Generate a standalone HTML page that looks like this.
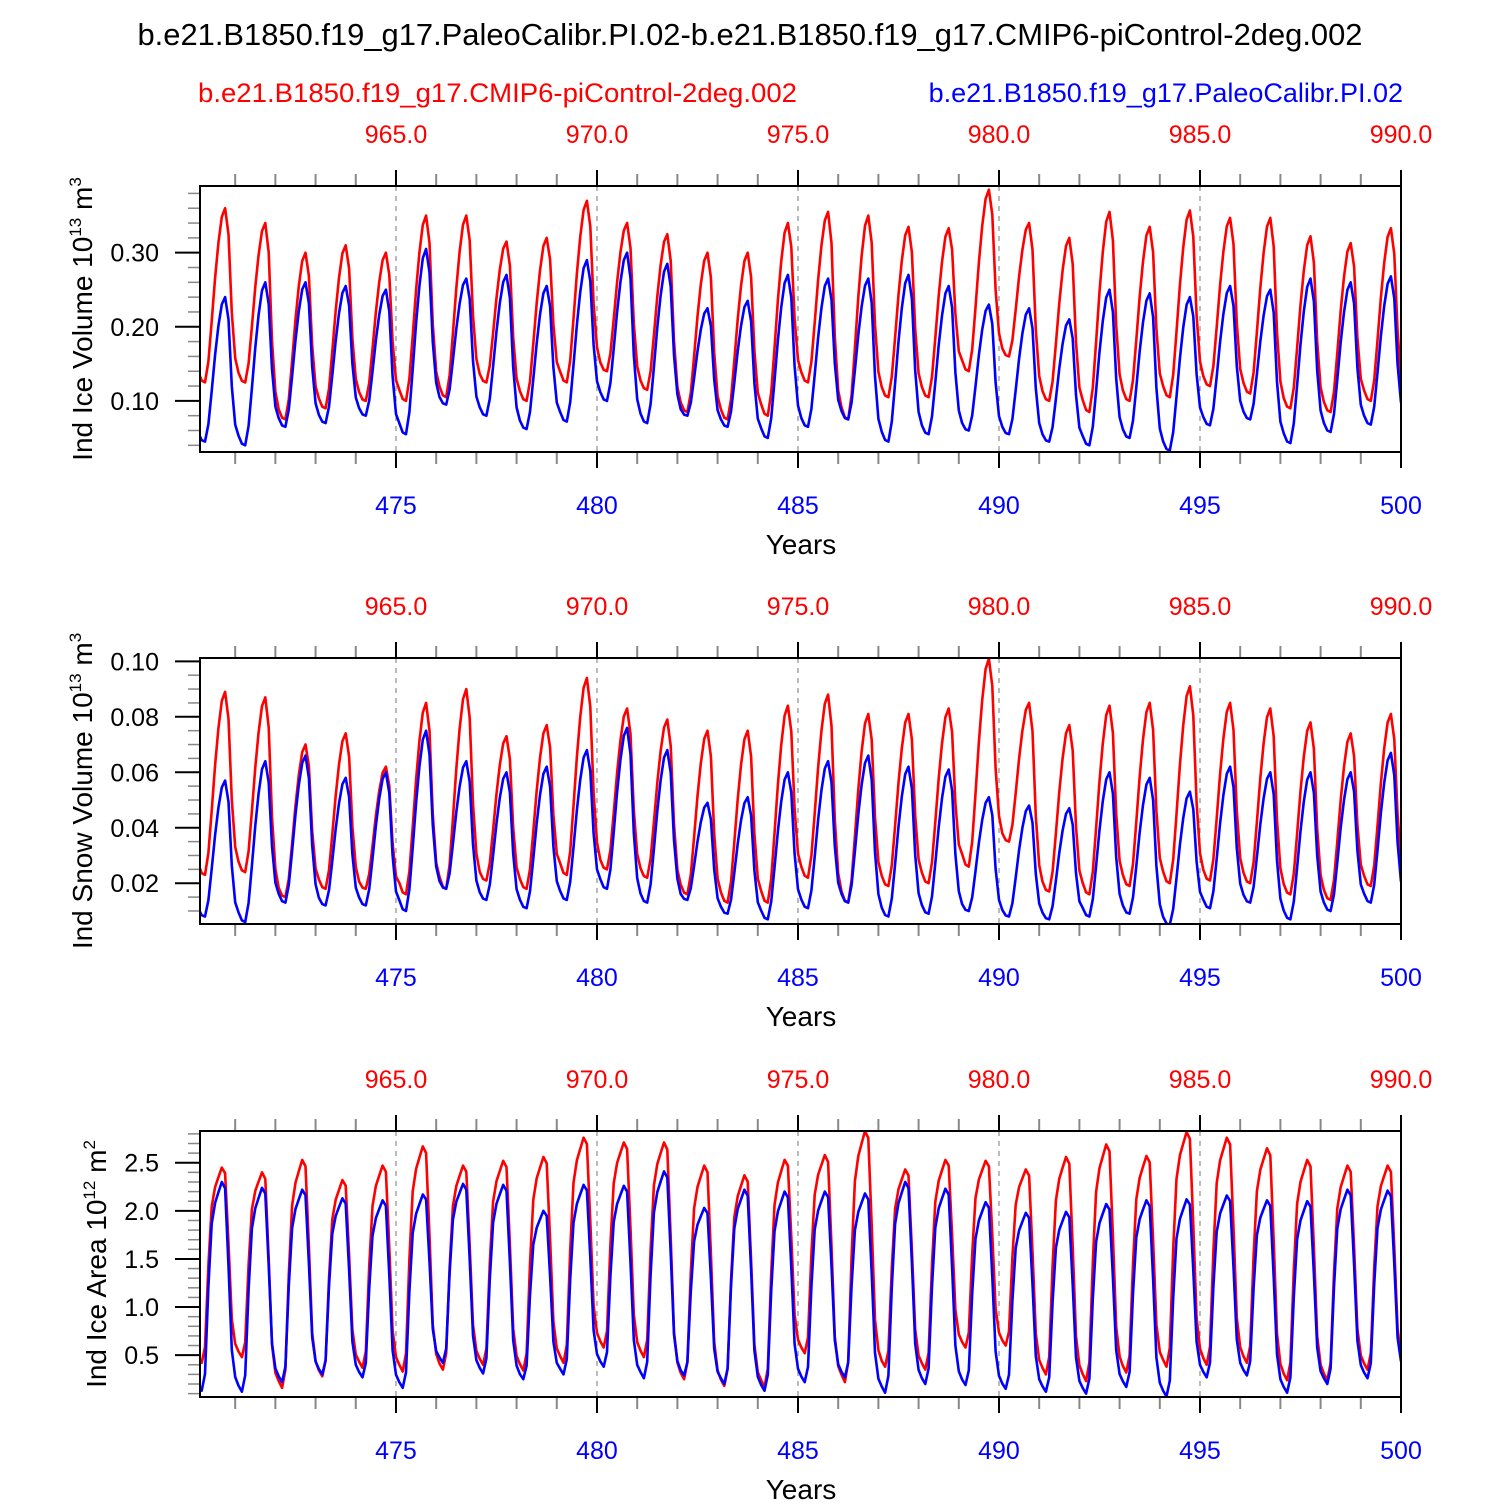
<!DOCTYPE html>
<html><head><meta charset="utf-8"><style>
body{margin:0;background:#fff}
svg text{font-family:"Liberation Sans",Arial,sans-serif}
</style></head><body>
<svg id="chart" width="1500" height="1500" viewBox="0 0 1500 1500" xmlns="http://www.w3.org/2000/svg">
<text x="750" y="45" font-size="31" text-anchor="middle" textLength="1225" lengthAdjust="spacingAndGlyphs">b.e21.B1850.f19_g17.PaleoCalibr.PI.02-b.e21.B1850.f19_g17.CMIP6-piControl-2deg.002</text>
<text x="198" y="102" font-size="27" fill="#ff0000" textLength="599" lengthAdjust="spacingAndGlyphs">b.e21.B1850.f19_g17.CMIP6-piControl-2deg.002</text>
<text x="1403" y="102" font-size="27" fill="#0000ff" text-anchor="end">b.e21.B1850.f19_g17.PaleoCalibr.PI.02</text>
</svg>
<script>
// Panel 1: ice volume (1e13 m3)
const years = [470,471,472,473,474,475,476,477,478,479,480,481,482,483,484,485,486,487,488,489,490,491,492,493,494,495,496,497,498,499];
const volRedMax = [0.36,0.34,0.30,0.31,0.30,0.35,0.35,0.315,0.32,0.37,0.34,0.325,0.30,0.30,0.34,0.355,0.35,0.335,0.333,0.385,0.34,0.32,0.355,0.335,0.357,0.347,0.347,0.322,0.313,0.333];
const volRedMin = [0.125,0.125,0.075,0.09,0.10,0.10,0.105,0.125,0.10,0.125,0.14,0.115,0.085,0.075,0.08,0.125,0.075,0.105,0.105,0.14,0.16,0.10,0.085,0.10,0.105,0.12,0.11,0.09,0.085,0.10,0.10];
const volBlueMax = [0.24,0.26,0.26,0.255,0.25,0.305,0.265,0.27,0.255,0.29,0.30,0.285,0.225,0.235,0.27,0.265,0.265,0.27,0.255,0.23,0.225,0.21,0.25,0.245,0.24,0.255,0.25,0.265,0.26,0.268];
const volBlueMin = [0.045,0.04,0.065,0.07,0.08,0.055,0.095,0.08,0.062,0.072,0.10,0.07,0.08,0.065,0.05,0.065,0.075,0.045,0.055,0.06,0.055,0.045,0.04,0.05,0.033,0.067,0.075,0.043,0.058,0.068,0.07];
// Panel 2: snow volume
const snowRedMax = [0.089,0.087,0.070,0.074,0.062,0.085,0.090,0.073,0.077,0.094,0.083,0.079,0.075,0.075,0.084,0.088,0.081,0.081,0.083,0.101,0.085,0.077,0.084,0.085,0.091,0.085,0.083,0.078,0.074,0.081];
const snowRedMin = [0.023,0.024,0.015,0.018,0.018,0.016,0.018,0.021,0.018,0.023,0.025,0.022,0.016,0.013,0.013,0.022,0.013,0.019,0.020,0.026,0.035,0.017,0.016,0.019,0.020,0.021,0.020,0.016,0.014,0.019,0.02];
const snowBlueMax = [0.057,0.064,0.066,0.058,0.060,0.075,0.064,0.060,0.062,0.068,0.076,0.068,0.049,0.051,0.060,0.064,0.066,0.062,0.061,0.051,0.048,0.047,0.060,0.058,0.053,0.062,0.060,0.060,0.060,0.067];
const snowBlueMin = [0.008,0.006,0.013,0.012,0.012,0.010,0.018,0.014,0.011,0.014,0.018,0.013,0.014,0.009,0.007,0.011,0.013,0.008,0.009,0.010,0.008,0.007,0.008,0.009,0.005,0.011,0.013,0.007,0.010,0.013,0.013];
// Panel 3: ice area (1e12 m2)
const areaRedMax = [2.45,2.40,2.53,2.32,2.47,2.67,2.47,2.52,2.56,2.76,2.71,2.71,2.47,2.37,2.53,2.58,2.83,2.43,2.53,2.52,2.43,2.56,2.69,2.57,2.82,2.76,2.65,2.53,2.47,2.47];
const areaRedMin = [0.42,0.48,0.16,0.28,0.37,0.33,0.35,0.40,0.34,0.42,0.58,0.48,0.25,0.18,0.17,0.52,0.22,0.38,0.35,0.58,0.60,0.30,0.23,0.32,0.38,0.40,0.42,0.24,0.24,0.35,0.35];
const areaBlueMax = [2.30,2.24,2.22,2.13,2.11,2.17,2.28,2.27,2.00,2.27,2.26,2.41,2.03,2.22,2.20,2.20,2.18,2.30,2.23,2.09,1.98,1.99,2.07,2.11,2.12,2.16,2.11,2.10,2.22,2.21];
const areaBlueMin = [0.13,0.12,0.22,0.30,0.27,0.16,0.42,0.31,0.25,0.30,0.38,0.26,0.29,0.20,0.13,0.22,0.27,0.11,0.20,0.19,0.15,0.12,0.10,0.17,0.07,0.27,0.29,0.11,0.20,0.26,0.3];
// seasonal cycle shape (fraction of range) for months Feb..Jan(next)
const volShape = [0.06,0.01,0,0.12,0.35,0.6,0.8,0.95,1.0,0.85,0.4,0.14];
const areaShape = [0.03,0,0.08,0.5,0.8,0.9,0.95,1.0,0.97,0.6,0.2,0.07];
const bottomTicks = ["475","480","485","490","495","500"];
const topTicks = ["965.0","970.0","975.0","980.0","985.0","990.0"];

const NS="http://www.w3.org/2000/svg";
const svg=document.getElementById('chart');
const X0=200,X1=1401,T0=470.125,T1=500;
const xs=t=>X0+(t-T0)/(T1-T0)*(X1-X0);
function mk(tag,attrs,parent){const e=document.createElementNS(NS,tag);for(const k in attrs)e.setAttribute(k,attrs[k]);(parent||svg).appendChild(e);return e;}

function series(maxA,minA,shape){
  const out=[];
  years.forEach((y,i)=>{
    shape.forEach((s,k)=>{
      const base=k>=8?minA[i+1]:minA[i];
      out.push([y+(k+1)/12, base+s*(maxA[i]-base)]);
    });
  });
  return out;
}

const panels=[
 {top:186,ymin:0.031,ymax:0.39,major:[0.10,0.20,0.30],fmt:v=>v.toFixed(2),minor:0.02,label:["Ind Ice Volume 10","13"," m","3"],lx:92,
  red:series(volRedMax,volRedMin,volShape),blue:series(volBlueMax,volBlueMin,volShape),name:'ice-volume'},
 {top:658,ymin:0.0053,ymax:0.1012,major:[0.02,0.04,0.06,0.08,0.10],fmt:v=>v.toFixed(2),minor:0.005,label:["Ind Snow Volume 10","13"," m","3"],lx:92,
  red:series(snowRedMax,snowRedMin,volShape),blue:series(snowBlueMax,snowBlueMin,volShape),name:'snow-volume'},
 {top:1131,ymin:0.065,ymax:2.83,major:[0.5,1.0,1.5,2.0,2.5],fmt:v=>v.toFixed(1),minor:0.1,label:["Ind Ice Area 10","12"," m","2"],lx:106,
  red:series(areaRedMax,areaRedMin,areaShape),blue:series(areaBlueMax,areaBlueMin,areaShape),name:'ice-area'}
];

panels.forEach(p=>{
  const H=266,top=p.top,bot=top+H;
  const ys=v=>bot-(v-p.ymin)/(p.ymax-p.ymin)*H;
  const g=mk('g',{});
  
  
  for(let y=471;y<=500;y++){
    const x=xs(y);const maj=y%5===0;
    const t1=mk('line',{x1:x,x2:x,y1:top,y2:top-(maj?16:12),stroke:maj?'#000':'#888','stroke-width':2},g);
    
    
    const t2=mk('line',{x1:x,x2:x,y1:bot,y2:bot+(maj?16:12),stroke:maj?'#000':'#888','stroke-width':2},g);
    
    
    if(maj&&y<500){
      const d=mk('line',{x1:x,x2:x,y1:top,y2:bot,stroke:'#777','stroke-width':1,'stroke-dasharray':'5,5'},g);
      
      
    }
  }
  bottomTicks.forEach((s,i)=>{
    const x=xs(475+5*i);
    const t=mk('text',{x:x,y:bot+62,'font-size':25,fill:'#0000ff','text-anchor':'middle'},g);t.textContent=s;
    
    
  });
  topTicks.forEach((s,i)=>{
    const x=xs(475+5*i);
    const t=mk('text',{x:x,y:top-43,'font-size':25,fill:'#ff0000','text-anchor':'middle'},g);t.textContent=s;
    
    
  });
  const yl=mk('text',{x:801,y:bot+102,'font-size':28,'text-anchor':'middle'},g);yl.textContent='Years';
  
  
  const start=Math.ceil(p.ymin/p.minor-1e-6);
  for(let k=start;k*p.minor<=p.ymax+1e-9;k++){
    const v=k*p.minor,y=ys(v);
    const m=mk('line',{x1:188,x2:200,y1:y,y2:y,stroke:'#888','stroke-width':1.5},g);
    
    
  }
  p.major.forEach(v=>{
    const y=ys(v);
    const m=mk('line',{x1:175,x2:200,y1:y,y2:y,stroke:'#000','stroke-width':2},g);
    
    
    const t=mk('text',{x:159,y:y+9,'font-size':25,'text-anchor':'end'},g);t.textContent=p.fmt(v);
    
    
  });
  const cy=top+H/2;
  const tt=mk('text',{x:p.lx,y:cy,'font-size':28,'text-anchor':'middle',transform:`rotate(-90 ${p.lx} ${cy})`},g);
  
  
  p.label.forEach((s,i)=>{const ts=document.createElementNS(NS,'tspan');ts.textContent=s;
    if(i%2===1){ts.setAttribute('font-size','17');ts.setAttribute('dy','-11');}else if(i>0){ts.setAttribute('font-size','28');ts.setAttribute('dy','11');}
    tt.appendChild(ts);});
  const cp=mk('clipPath',{id:'c'+top},g);mk('rect',{x:X0,y:top,width:X1-X0,height:H},cp);
  [['red','#ff0000','control-series'],['blue','#0000ff','paleo-series']].forEach(([key,col,nm])=>{
    const d=p[key].map((pt,i)=>(i?'L':'M')+xs(pt[0]).toFixed(1)+' '+ys(pt[1]).toFixed(1)).join('');
    const path=mk('path',{d:d,fill:'none',stroke:col,'stroke-width':2.6,'stroke-linejoin':'round','clip-path':`url(#c${top})`},g);
    
    
  });
  const fr=mk('rect',{x:X0,y:top,width:X1-X0,height:H,fill:'none',stroke:'#000','stroke-width':2},g);
  
  
});
</script>
</body></html>
